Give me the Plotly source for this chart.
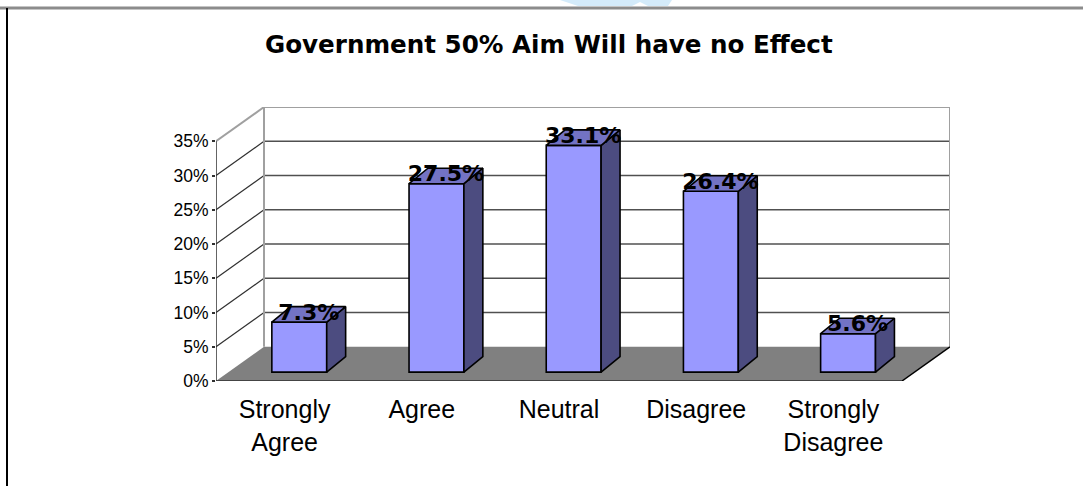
import plotly.graph_objects as go

# ---------------- data ----------------
categories = ["Strongly<br>Agree", "Agree", "Neutral", "Disagree", "Strongly<br>Disagree"]
values = [7.3, 27.5, 33.1, 26.4, 5.6]
value_labels = ["7.3%", "27.5%", "33.1%", "26.4%", "5.6%"]
y_ticks = [0, 5, 10, 15, 20, 25, 30, 35]
y_tick_labels = ["0%", "5%", "10%", "15%", "20%", "25%", "30%", "35%"]
title_text = "Government 50% Aim Will have no Effect"

# ---------------- pseudo-3D geometry (axis units) ----------------
DEPTH_X, DEPTH_Y = 0.35, 5.0          # full depth of floor / walls
BAR_OFF_X, BAR_OFF_Y = 0.107, 1.3     # bar front face offset from front plane
BAR_W = 0.40
BAR_DX, BAR_DY = 0.138, 2.26          # bar depth
YMAX = 35

FRONT = "#9999FF"
TOP = "#7373C4"
SIDE = "#4C4C80"
EDGE = "#000000"

W, H = 1083, 486
ML, MR, MT, MB = 216, 133, 107, 105
PW, PH = W - ML - MR, H - MT - MB
X0, X1 = -0.5, len(categories) - 0.5


def px_x(p):
    return (p - ML) / PW


def px_y(p):
    return (H - MB - p) / PH


fig = go.Figure()

# front faces of bars
xs = [i + BAR_OFF_X for i in range(len(values))]
fig.add_trace(go.Bar(
    x=xs, y=values, base=BAR_OFF_Y, width=BAR_W,
    marker=dict(color=FRONT, line=dict(color=EDGE, width=1.6)),
    hoverinfo="skip", showlegend=False,
))

# side and top faces
sx, sy, tx, ty = [], [], [], []
for x, v in zip(xs, values):
    xl, xr = x - BAR_W / 2, x + BAR_W / 2
    b, t = BAR_OFF_Y, BAR_OFF_Y + v
    sx += [xr, xr + BAR_DX, xr + BAR_DX, xr, xr, None]
    sy += [b, b + BAR_DY, t + BAR_DY, t, b, None]
    tx += [xl, xr, xr + BAR_DX, xl + BAR_DX, xl, None]
    ty += [t, t, t + BAR_DY, t + BAR_DY, t, None]

fig.add_trace(go.Scatter(x=sx, y=sy, mode="lines", fill="toself", fillcolor=SIDE,
                         line=dict(color=EDGE, width=1.6), hoverinfo="skip", showlegend=False))
fig.add_trace(go.Scatter(x=tx, y=ty, mode="lines", fill="toself", fillcolor=TOP,
                         line=dict(color=EDGE, width=1.6), hoverinfo="skip", showlegend=False))

# value labels centred on top faces
fig.add_trace(go.Scatter(
    x=[x + BAR_DX / 2 for x in xs],
    y=[BAR_OFF_Y + v + BAR_DY / 2 for v in values],
    mode="text", text=value_labels, textposition="middle center",
    textfont=dict(family="DejaVu Sans", size=22, color="black", weight="bold"),
    hoverinfo="skip", showlegend=False,
))

shapes = []
# floor
shapes.append(dict(type="path", xref="x", yref="y", layer="below",
                   path=f"M {X0},0 L {X1},0 L {X1 + DEPTH_X},{DEPTH_Y} L {X0 + DEPTH_X},{DEPTH_Y} Z",
                   fillcolor="#808080", line=dict(width=0)))
# back wall grid lines and side wall lines
for v in y_ticks[1:-1]:
    shapes.append(dict(type="line", xref="x", yref="y", layer="below",
                       x0=X0 + DEPTH_X, x1=X1 + DEPTH_X, y0=v + DEPTH_Y, y1=v + DEPTH_Y,
                       line=dict(color="#505050", width=1.5)))
    shapes.append(dict(type="line", xref="x", yref="y", layer="below",
                       x0=X0, x1=X0 + DEPTH_X, y0=v, y1=v + DEPTH_Y,
                       line=dict(color="#303030", width=1.2)))
# back wall borders
wall = "#A0A0A0"
shapes.append(dict(type="line", xref="x", yref="y", layer="below",
                   x0=X0 + DEPTH_X, x1=X0 + DEPTH_X, y0=DEPTH_Y, y1=YMAX + DEPTH_Y,
                   line=dict(color=wall, width=2)))
shapes.append(dict(type="line", xref="x", yref="y", layer="below",
                   x0=X0 + DEPTH_X, x1=X1 + DEPTH_X, y0=YMAX + DEPTH_Y, y1=YMAX + DEPTH_Y,
                   line=dict(color=wall, width=2)))
shapes.append(dict(type="line", xref="x", yref="y", layer="below",
                   x0=X1 + DEPTH_X, x1=X1 + DEPTH_X, y0=DEPTH_Y, y1=YMAX + DEPTH_Y,
                   line=dict(color=wall, width=2)))
shapes.append(dict(type="line", xref="x", yref="y", layer="below",
                   x0=X0, x1=X0 + DEPTH_X, y0=YMAX, y1=YMAX + DEPTH_Y,
                   line=dict(color=wall, width=2)))
# floor edges and axes
shapes.append(dict(type="line", xref="x", yref="y", layer="below",
                   x0=X1, x1=X1 + DEPTH_X, y0=0, y1=DEPTH_Y,
                   line=dict(color="#000000", width=1.5)))
shapes.append(dict(type="line", xref="x", yref="y", layer="below",
                   x0=X0, x1=X1, y0=0, y1=0, line=dict(color="#303030", width=1.5)))
shapes.append(dict(type="line", xref="x", yref="y", layer="below",
                   x0=X0, x1=X0, y0=0, y1=YMAX, line=dict(color="#303030", width=1.5)))
# category boundary ticks
for k in range(len(categories) + 1):
    shapes.append(dict(type="line", xref="x", yref="y", ysizemode="pixel", yanchor=0,
                       x0=X0 + k, x1=X0 + k, y0=0, y1=-7, layer="below",
                       line=dict(color="#303030", width=1.2)))
# outer frame pieces
shapes.append(dict(type="line", xref="paper", yref="paper",
                   x0=px_x(0), x1=px_x(W), y0=px_y(8), y1=px_y(8),
                   line=dict(color="#8C8C8C", width=3)))
shapes.append(dict(type="line", xref="paper", yref="paper",
                   x0=px_x(7), x1=px_x(7), y0=px_y(8), y1=px_y(H),
                   line=dict(color="#000000", width=2)))
# faint watermark fragment at the top edge
wm = [(560, 0), (672, 0), (668, 6), (648, 6), (640, 2), (632, 6), (578, 6)]
wm_path = "M " + " L ".join(f"{px_x(a)},{px_y(b)}" for a, b in wm) + " Z"
shapes.append(dict(type="path", xref="paper", yref="paper", path=wm_path,
                   fillcolor="#D4EBFA", line=dict(width=0), layer="below"))

fig.update_layout(
    width=W, height=H,
    margin=dict(l=ML, r=MR, t=MT, b=MB, autoexpand=False),
    paper_bgcolor="white", plot_bgcolor="rgba(0,0,0,0)",
    shapes=shapes,
    showlegend=False,
    font=dict(family="Liberation Sans", color="black"),
    xaxis=dict(range=[X0, X1 + DEPTH_X], tickmode="array",
               tickvals=list(range(len(categories))), ticktext=categories,
               showgrid=False, zeroline=False, showline=False, ticks="",
               tickfont=dict(size=25, family="Liberation Sans"), ticklabelstandoff=11,
               fixedrange=True),
    yaxis=dict(range=[0, YMAX + DEPTH_Y], tickmode="array",
               tickvals=y_ticks, ticktext=y_tick_labels,
               showgrid=False, zeroline=False, showline=False,
               ticks="outside", ticklen=3, tickcolor="#303030", tickwidth=1.5,
               tickfont=dict(size=17.5, family="Liberation Sans"), fixedrange=True),
    annotations=[dict(text=title_text, xref="paper", yref="paper",
                      x=px_x(549), y=px_y(45), xanchor="center", yanchor="middle",
                      showarrow=False,
                      font=dict(size=24.6, family="DejaVu Sans", color="black", weight="bold"))],
)

fig.write_html("out.html", config={"displayModeBar": False},
               post_script="document.body.style.margin='0';")
